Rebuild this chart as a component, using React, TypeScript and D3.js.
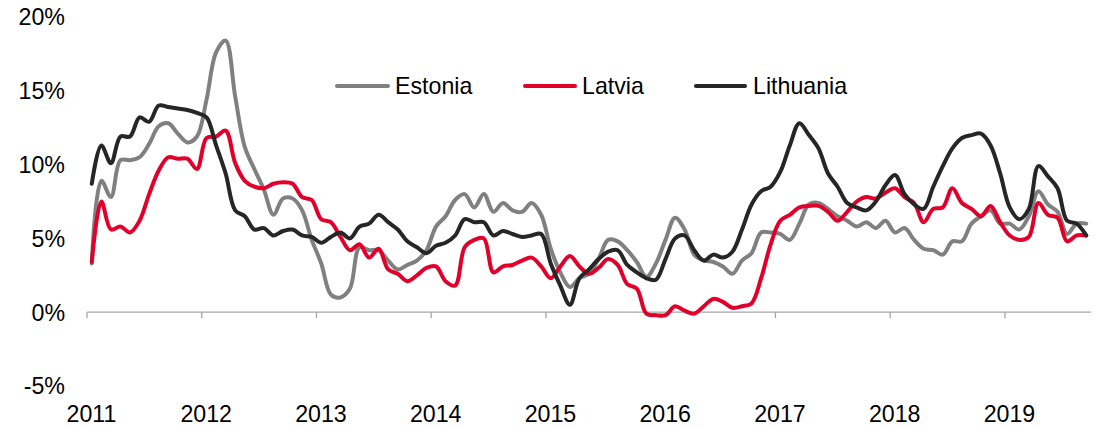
import * as d3 from 'd3';

const WIDTH = 1114;
const HEIGHT = 427;

const YEARS = [2011, 2012, 2013, 2014, 2015, 2016, 2017, 2018, 2019];
const Y_TICKS = [-5, 0, 5, 10, 15, 20];

// monthly values, Jan 2011 .. Sep 2019 (%)
const ESTONIA = [
    3.3, 8.9, 7.8, 10.3, 10.3, 10.5, 11.4, 12.6, 12.8, 12.1, 11.5, 11.9,
    14.4, 17.6, 18.4, 14.6, 11.2, 9.7, 8.3, 6.6, 7.7, 7.7, 6.9, 4.9,
    3.3, 1.2, 1.0, 1.6, 4.4, 4.2, 4.2, 3.5, 2.9, 3.2, 3.5, 4.2,
    5.8, 6.5, 7.6, 8.0, 7.1, 8.0, 6.8, 7.4, 6.9, 6.8, 7.4, 6.6,
    4.3, 2.7, 1.7, 2.3, 2.6, 3.6, 4.9, 4.8, 4.2, 3.4, 2.4, 3.3,
    4.9, 6.4, 5.6, 3.9, 3.5, 3.4, 3.1, 2.6, 3.5, 4.0, 5.4, 5.4,
    5.3, 4.9, 6.0, 7.3, 7.4, 7.0, 6.5, 6.2, 5.8, 6.1, 5.7, 6.2,
    5.4, 5.7, 4.9, 4.3, 4.2, 3.9, 4.8, 4.8, 6.0, 6.5, 6.9, 6.0,
    6.0, 5.6, 6.5, 8.2, 7.3, 6.8, 5.3, 6.0, 6.0,
];

const LATVIA = [
    3.4, 7.5, 5.6, 5.8, 5.4, 6.2, 8.0, 9.6, 10.5, 10.4, 10.4, 9.7,
    11.8, 11.9, 12.3, 10.1, 8.9, 8.5, 8.4, 8.7, 8.8, 8.7, 7.8, 7.6,
    6.3, 6.1, 5.1, 4.2, 4.6, 3.7, 4.3, 2.9, 2.6, 2.1, 2.5, 3.0,
    3.1, 2.1, 1.8, 4.4, 4.9, 5.0, 2.7, 3.1, 3.2, 3.5, 3.7, 3.1,
    2.3, 3.1, 3.8, 3.1, 2.6, 3.0, 3.6, 3.2, 1.9, 1.6, -0.1, -0.2,
    -0.2, 0.4, 0.1, -0.1, 0.4, 0.9, 0.7, 0.3, 0.4, 0.6, 2.3, 4.6,
    6.2, 6.6, 7.1, 7.2, 7.2, 6.8, 6.2, 6.8, 7.5, 7.8, 7.7, 8.1,
    8.4, 7.8, 7.4, 6.1, 7.0, 7.1, 8.4, 7.4, 7.0, 6.5, 7.2, 6.1,
    5.2, 4.9, 5.1, 7.4, 6.6, 6.4, 4.8, 5.2, 5.2,
];

const LITHUANIA = [
    8.7, 11.3, 10.1, 11.9, 11.9, 13.2, 12.9, 14.0, 13.9, 13.8, 13.7, 13.5,
    13.2, 11.3, 9.4, 6.9, 6.5, 5.6, 5.7, 5.2, 5.5, 5.6, 5.2, 5.1,
    4.7, 5.1, 5.4, 5.0, 5.8, 6.0, 6.6, 6.1, 5.6, 4.8, 4.4, 4.0,
    4.5, 4.7, 5.2, 6.3, 6.1, 6.1, 5.2, 5.5, 5.3, 5.1, 5.2, 5.3,
    3.3, 1.8, 0.5, 2.3, 2.9, 3.6, 4.1, 4.2, 3.2, 2.7, 2.3, 2.2,
    3.6, 5.0, 5.2, 4.2, 3.5, 3.9, 3.7, 4.1, 5.6, 7.3, 8.2, 8.5,
    9.5, 11.3, 12.8, 12.0, 11.1, 9.4, 8.5, 7.4, 7.1, 6.9, 7.5, 8.6,
    9.3, 8.0, 7.3, 7.0, 8.5, 9.9, 11.1, 11.8, 12.0, 12.1, 11.3, 9.4,
    7.1, 6.3, 7.0, 9.9, 9.2, 8.4, 6.2, 6.0, 5.2,
];

const SERIES = [
    { name: 'Estonia', values: ESTONIA, color: '#808080' },
    { name: 'Latvia', values: LATVIA, color: '#e2002b' },
    { name: 'Lithuania', values: LITHUANIA, color: '#262626' },
];

const FONT = '"Liberation Sans", Arial, sans-serif';
const FONT_SIZE = 23.2;

export default function App() {
    // x in months since Jan 2011, axis runs to Oct 2019
    const x = d3.scaleLinear().domain([0, 105]).range([87, 1091]);
    const y = d3.scaleLinear().domain([-5, 20]).range([386, 17]);

    const line = d3
        .line<number>()
        .x((_, i) => x(i + 0.5))
        .y((d) => y(d))
        .curve(d3.curveCatmullRom.alpha(0.5));

    // legend slots (line start, line end, text x)
    const legendX = [
        [337, 388, 395],
        [525, 575, 582],
        [696, 745, 753],
    ];

    return (
        <svg
            width={WIDTH}
            height={HEIGHT}
            style={{ position: 'absolute', left: 0, top: 0, background: '#fff' }}
            fontFamily={FONT}
        >
            {Y_TICKS.map((t) => (
                <text
                    key={t}
                    x={65}
                    y={y(t)}
                    dy="0.36em"
                    textAnchor="end"
                    fontSize={FONT_SIZE}
                    fill="#000"
                >
                    {`${t}%`}
                </text>
            ))}

            <line x1={x(0)} x2={x(105)} y1={y(0)} y2={y(0)} stroke="#a6a6a6" strokeWidth={1.3} />
            {YEARS.map((yr, i) => (
                <g key={yr}>
                    <line
                        x1={x(i * 12)}
                        x2={x(i * 12)}
                        y1={y(0)}
                        y2={y(0) + 6}
                        stroke="#a6a6a6"
                        strokeWidth={1.3}
                    />
                    <text
                        x={x(i * 12) + 4.5}
                        y={421.5}
                        textAnchor="middle"
                        fontSize={FONT_SIZE}
                        fill="#000"
                    >
                        {yr}
                    </text>
                </g>
            ))}

            {SERIES.map((s) => (
                <path
                    key={s.name}
                    d={line(s.values) ?? ''}
                    fill="none"
                    stroke={s.color}
                    strokeWidth={4}
                    strokeLinejoin="round"
                    strokeLinecap="round"
                />
            ))}

            {SERIES.map((s, i) => (
                <g key={s.name}>
                    <line
                        x1={legendX[i][0]}
                        x2={legendX[i][1]}
                        y1={86}
                        y2={86}
                        stroke={s.color}
                        strokeWidth={4}
                        strokeLinecap="round"
                    />
                    <text x={legendX[i][2]} y={94} fontSize={FONT_SIZE} fill="#000">
                        {s.name}
                    </text>
                </g>
            ))}
        </svg>
    );
}
